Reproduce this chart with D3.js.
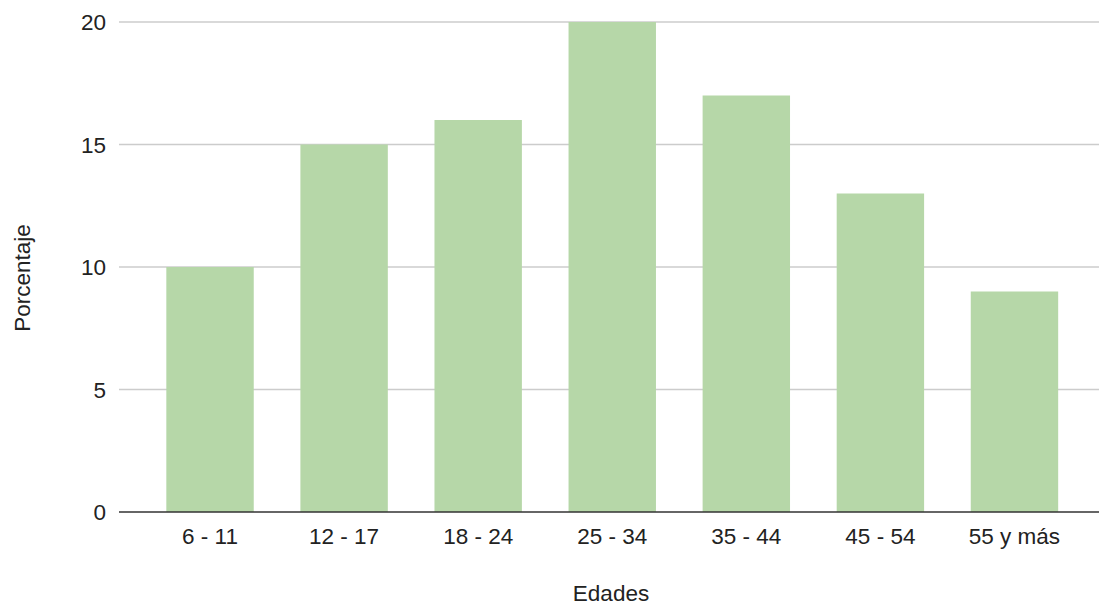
<!DOCTYPE html>
<html>
<head>
<meta charset="utf-8">
<script src="https://cdn.jsdelivr.net/npm/d3@7"></script>
<style>
  html, body { margin: 0; padding: 0; background: #fff; }
  svg { display: block; font-family: "Liberation Sans", Arial, sans-serif; }
</style>
</head>
<body>
<svg id="chart" width="1099" height="608"></svg>
<script>
// Age groups and share of respondents (%)
const categories = ["6 - 11", "12 - 17", "18 - 24", "25 - 34", "35 - 44", "45 - 54", "55 y más"];
const values = [10, 15, 16, 20, 17, 13, 9];
const yTicks = [0, 5, 10, 15, 20];
const xTitle = "Edades";
const yTitle = "Porcentaje";

const svg = d3.select("#chart");
const plotLeft = 119, plotRight = 1099, plotTop = 22, plotBottom = 512;
const fontSize = 22.5;

const x = d3.scaleBand()
  .domain(categories)
  .range([143, 1081.5])
  .paddingInner(0.348)
  .paddingOuter(0.174);

const y = d3.scaleLinear()
  .domain([0, 20])
  .range([plotBottom, plotTop]);

// Horizontal gridlines
svg.append("g")
  .selectAll("line")
  .data(yTicks.filter(d => d !== 0))
  .join("line")
  .attr("x1", plotLeft).attr("x2", plotRight)
  .attr("y1", d => y(d)).attr("y2", d => y(d))
  .attr("stroke", "#cccccc")
  .attr("stroke-width", 1.5);

// Y tick labels
svg.append("g")
  .selectAll("text")
  .data(yTicks)
  .join("text")
  .attr("x", 106)
  .attr("y", d => y(d))
  .attr("dy", "0.36em")
  .attr("text-anchor", "end")
  .attr("font-size", fontSize)
  .attr("fill", "#222")
  .text(d => d);

// Bars
svg.append("g")
  .selectAll("rect")
  .data(values)
  .join("rect")
  .attr("x", (d, i) => x(categories[i]))
  .attr("y", d => y(d))
  .attr("width", x.bandwidth())
  .attr("height", d => y(0) - y(d))
  .attr("fill", "#b6d7a8");

// Baseline
svg.append("line")
  .attr("x1", plotLeft).attr("x2", plotRight)
  .attr("y1", y(0)).attr("y2", y(0))
  .attr("stroke", "#333")
  .attr("stroke-width", 1.5);

// X tick labels
svg.append("g")
  .selectAll("text")
  .data(categories)
  .join("text")
  .attr("x", d => x(d) + x.bandwidth() / 2)
  .attr("y", 536)
  .attr("dy", "0.36em")
  .attr("text-anchor", "middle")
  .attr("font-size", fontSize)
  .attr("fill", "#222")
  .text(d => d);

// Axis titles
svg.append("text")
  .attr("x", 611)
  .attr("y", 593)
  .attr("dy", "0.36em")
  .attr("text-anchor", "middle")
  .attr("font-size", fontSize)
  .attr("fill", "#222")
  .text(xTitle);

svg.append("text")
  .attr("transform", "translate(22,278) rotate(-90)")
  .attr("dy", "0.36em")
  .attr("text-anchor", "middle")
  .attr("font-size", fontSize)
  .attr("fill", "#222")
  .text(yTitle);
</script>
</body>
</html>
